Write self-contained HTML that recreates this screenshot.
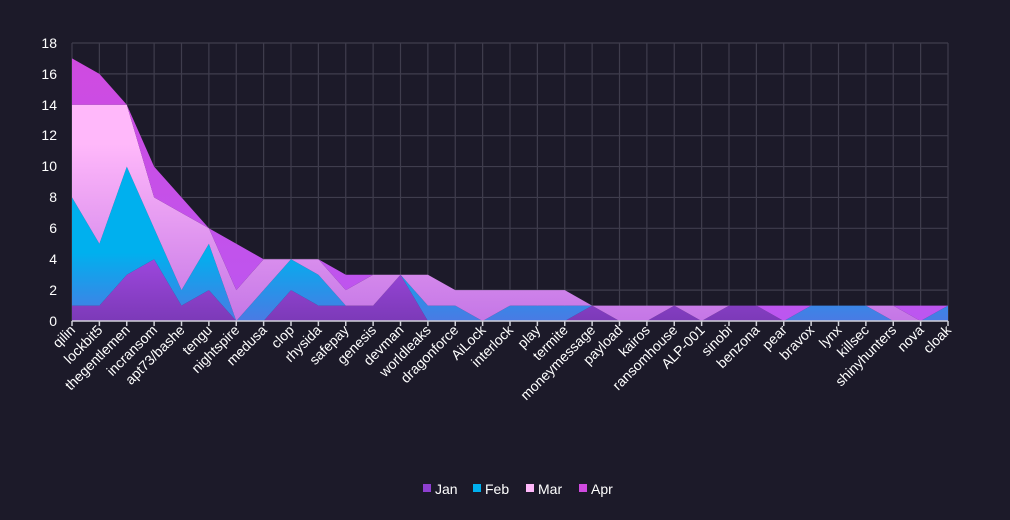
<!DOCTYPE html>
<html><head><meta charset="utf-8"><style>
html,body{margin:0;padding:0;background:#1c1a29;}
svg{display:block;font-family:"Liberation Sans",sans-serif;}
</style></head><body>
<svg id="s" width="1010" height="520" xmlns="http://www.w3.org/2000/svg">
<defs>
<linearGradient id="gJan" gradientUnits="userSpaceOnUse" x1="0" y1="260" x2="0" y2="321"><stop offset="0" stop-color="#9c46dc"/><stop offset="1" stop-color="#7c3ab8"/></linearGradient>
<linearGradient id="gFeb" gradientUnits="userSpaceOnUse" x1="0" y1="150" x2="0" y2="321"><stop offset="0.6" stop-color="#00b0ee"/><stop offset="1" stop-color="#4a7ae4"/></linearGradient>
<linearGradient id="gMar" gradientUnits="userSpaceOnUse" x1="0" y1="100" x2="0" y2="321"><stop offset="0.2" stop-color="#ffb8fa"/><stop offset="1" stop-color="#c476e6"/></linearGradient>
<linearGradient id="gApr" gradientUnits="userSpaceOnUse" x1="0" y1="50" x2="0" y2="321"><stop offset="0" stop-color="#d04ae0"/><stop offset="1" stop-color="#bc56f0"/></linearGradient>
</defs>
<rect width="1010" height="520" fill="#1c1a29"/>
<g id="grid" stroke="#3f3d4d" stroke-width="1.2"></g>
<g id="areas"></g>
<g id="ticks" stroke="#d0d0d8" stroke-width="1.5"></g>
<g fill="#ffffff" font-size="14" text-anchor="end">
<text x="57" y="326">0</text><text x="57" y="295">2</text><text x="57" y="264">4</text><text x="57" y="233">6</text><text x="57" y="202">8</text><text x="57" y="171">10</text><text x="57" y="140">12</text><text x="57" y="110">14</text><text x="57" y="79">16</text><text x="57" y="48">18</text>
</g>
<g id="xl" fill="#ffffff" font-size="14" text-anchor="end">
<text>qilin</text><text>lockbit5</text><text>thegentlemen</text><text>incransom</text><text>apt73/bashe</text><text>tengu</text><text>nightspire</text><text>medusa</text><text>clop</text><text>rhysida</text><text>safepay</text><text>genesis</text><text>devman</text><text>worldleaks</text><text>dragonforce</text><text>AiLock</text><text>interlock</text><text>play</text><text>termite</text><text>moneymessage</text><text>payload</text><text>kairos</text><text>ransomhouse</text><text>ALP-001</text><text>sinobi</text><text>benzona</text><text>pear</text><text>bravox</text><text>lynx</text><text>killsec</text><text>shinyhunters</text><text>nova</text><text>cloak</text>
</g>
<g font-size="14" fill="#ffffff">
<rect x="423" y="484" width="8" height="8" fill="#8e3fd0"/><text x="435" y="494">Jan</text>
<rect x="473" y="484" width="8" height="8" fill="#00b0ee"/><text x="485" y="494">Feb</text>
<rect x="526" y="484" width="8" height="8" fill="#ffb8fa"/><text x="538" y="494">Mar</text>
<rect x="579" y="484" width="8" height="8" fill="#d04ae0"/><text x="591" y="494">Apr</text>
</g>
</svg>
<script>
var L=72,R=948,T=43,B=321,N=33,dx=(R-L)/(N-1),u=(B-T)/18;
var d=[[1,7,6,3],[1,4,9,2],[3,7,4,0],[4,2,2,2],[1,1,5,1],[2,3,1,0],[0,0,2,3],[0,2,2,0],[2,2,0,0],[1,2,1,0],[1,0,1,1],[1,0,2,0],[3,0,0,0],[0,1,2,0],[0,1,1,0],[0,0,2,0],[0,1,1,0],[0,1,1,0],[0,1,1,0],[1,0,0,0],[0,0,1,0],[0,0,1,0],[1,0,0,0],[0,0,1,0],[1,0,0,0],[1,0,0,0],[0,0,0,1],[0,1,0,0],[0,1,0,0],[0,1,0,0],[0,0,1,0],[0,0,0,1],[0,1,0,0]];
var ns="http://www.w3.org/2000/svg";
function el(n,a,p){var e=document.createElementNS(ns,n);for(var k in a)e.setAttribute(k,a[k]);p.appendChild(e);return e;}
var g=document.getElementById('grid');
for(var i=0;i<=9;i++){var y=B-i*2*u;el('line',{x1:L,x2:R,y1:y,y2:y},g);}
for(var i=0;i<N;i++){var x=L+i*dx;el('line',{x1:x,x2:x,y1:T,y2:B},g);}
var cum=d.map(function(r){var c=[0],s=0;for(var j=0;j<4;j++){s+=r[j];c.push(s);}return c;});
var fills=['url(#gJan)','url(#gFeb)','url(#gMar)','url(#gApr)'];
var a=document.getElementById('areas');
for(var j=0;j<4;j++){var p='';for(var i=0;i<N;i++)p+=(i?'L':'M')+(L+i*dx).toFixed(1)+','+(B-cum[i][j+1]*u).toFixed(1);
for(var i=N-1;i>=0;i--)p+='L'+(L+i*dx).toFixed(1)+','+(B-cum[i][j]*u).toFixed(1);
el('path',{d:p+'Z',fill:fills[j]},a);}
var t=document.getElementById('ticks');
el('line',{x1:L,x2:R,y1:B,y2:B},t);
for(var i=0;i<N;i++){var x=L+i*dx;el('line',{x1:x,x2:x,y1:B,y2:B+5},t);}
var xs=document.getElementById('xl').children;
for(var i=0;i<xs.length;i++){var x=L+i*dx+4,y=B+10;xs[i].setAttribute('transform','translate('+x+','+y+') rotate(-45)');}
</script>
</body></html>
